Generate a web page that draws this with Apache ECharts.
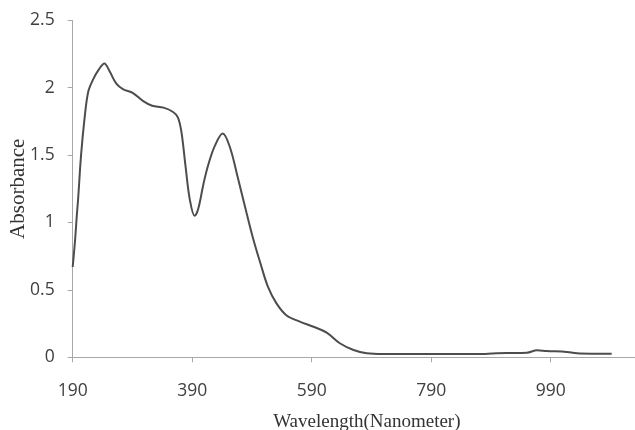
<!DOCTYPE html>
<html>
<head>
<meta charset="utf-8">
<script src="https://cdn.jsdelivr.net/npm/echarts@6/dist/echarts.min.js"></script>
<style>
  html, body { margin: 0; padding: 0; background: #fff; }
  #chart { width: 635px; height: 430px; }
</style>
</head>
<body>
<div id="chart"></div>
<script>
// UV-Vis absorption spectrum
const wavelengths = [190, 194, 197, 199, 204, 210, 216, 224, 233, 243, 252, 263, 274, 291, 308, 323, 342, 358, 366, 372, 379, 386, 394, 400, 409, 417, 428, 441, 453, 467, 481, 492, 504, 517, 531, 548, 570, 593, 615, 637, 660, 682, 710, 760, 820, 880, 900, 916, 950, 967, 983, 1017, 1039, 1065, 1092];
const absorbance = [0.67, 0.87, 1.06, 1.17, 1.5, 1.78, 1.97, 2.06, 2.13, 2.18, 2.12, 2.03, 1.99, 1.96, 1.9, 1.866, 1.852, 1.82, 1.78, 1.67, 1.41, 1.17, 1.05, 1.1, 1.29, 1.43, 1.57, 1.66, 1.56, 1.32, 1.07, 0.88, 0.7, 0.52, 0.4, 0.31, 0.265, 0.227, 0.183, 0.104, 0.054, 0.03, 0.025, 0.025, 0.025, 0.025, 0.03, 0.032, 0.034, 0.052, 0.047, 0.04, 0.028, 0.027, 0.027];
const xTicks = [190, 390, 590, 790, 990];
const yTicks = [0, 0.5, 1, 1.5, 2, 2.5];

const points = wavelengths.map((w, i) => [w, absorbance[i]]);

const chart = echarts.init(document.getElementById('chart'), null, { renderer: 'canvas' });
const labelFont = { fontFamily: 'Open Sans', fontSize: 17.5, color: '#404040' };
const axisGrey = '#a8a8a8';

chart.setOption({
  animation: false,
  backgroundColor: '#ffffff',
  grid: { left: 72.7, right: 0, top: 20.3, bottom: 72.7, containLabel: false, outerBoundsMode: 'none' },
  xAxis: {
    type: 'value',
    min: xTicks[0],
    max: 1131,
    interval: xTicks[1] - xTicks[0],
    name: 'Wavelength(Nanometer)',
    nameLocation: 'middle',
    nameGap: 55,
    nameMoveOverlap: false,
    nameTextStyle: { fontFamily: 'Liberation Serif', fontSize: 19, color: '#333', padding: [0, 0, 0, 26] },
    axisLine: { show: true, lineStyle: { color: axisGrey, width: 1 } },
    axisTick: { show: true, length: 5, lineStyle: { color: axisGrey } },
    axisLabel: Object.assign({ margin: 25, showMaxLabel: false,
      formatter: v => (xTicks.includes(v) ? String(v) : '') }, labelFont),
    splitLine: { show: false }
  },
  yAxis: {
    type: 'value',
    min: yTicks[0],
    max: yTicks[yTicks.length - 1],
    interval: 0.5,
    name: 'Absorbance',
    nameLocation: 'middle',
    nameGap: 44,
    nameMoveOverlap: false,
    nameRotate: 90,
    nameTextStyle: { fontFamily: 'Liberation Serif', fontSize: 21, color: '#333' },
    axisLine: { show: true, lineStyle: { color: axisGrey, width: 1 } },
    axisTick: { show: true, length: 5, lineStyle: { color: axisGrey } },
    axisLabel: Object.assign({ margin: 18 }, labelFont),
    splitLine: { show: false }
  },
  series: [{
    type: 'line',
    data: points,
    smooth: 0.35,
    showSymbol: false,
    lineStyle: { color: '#4d4d4d', width: 2 }
  }]
});
</script>
</body>
</html>
